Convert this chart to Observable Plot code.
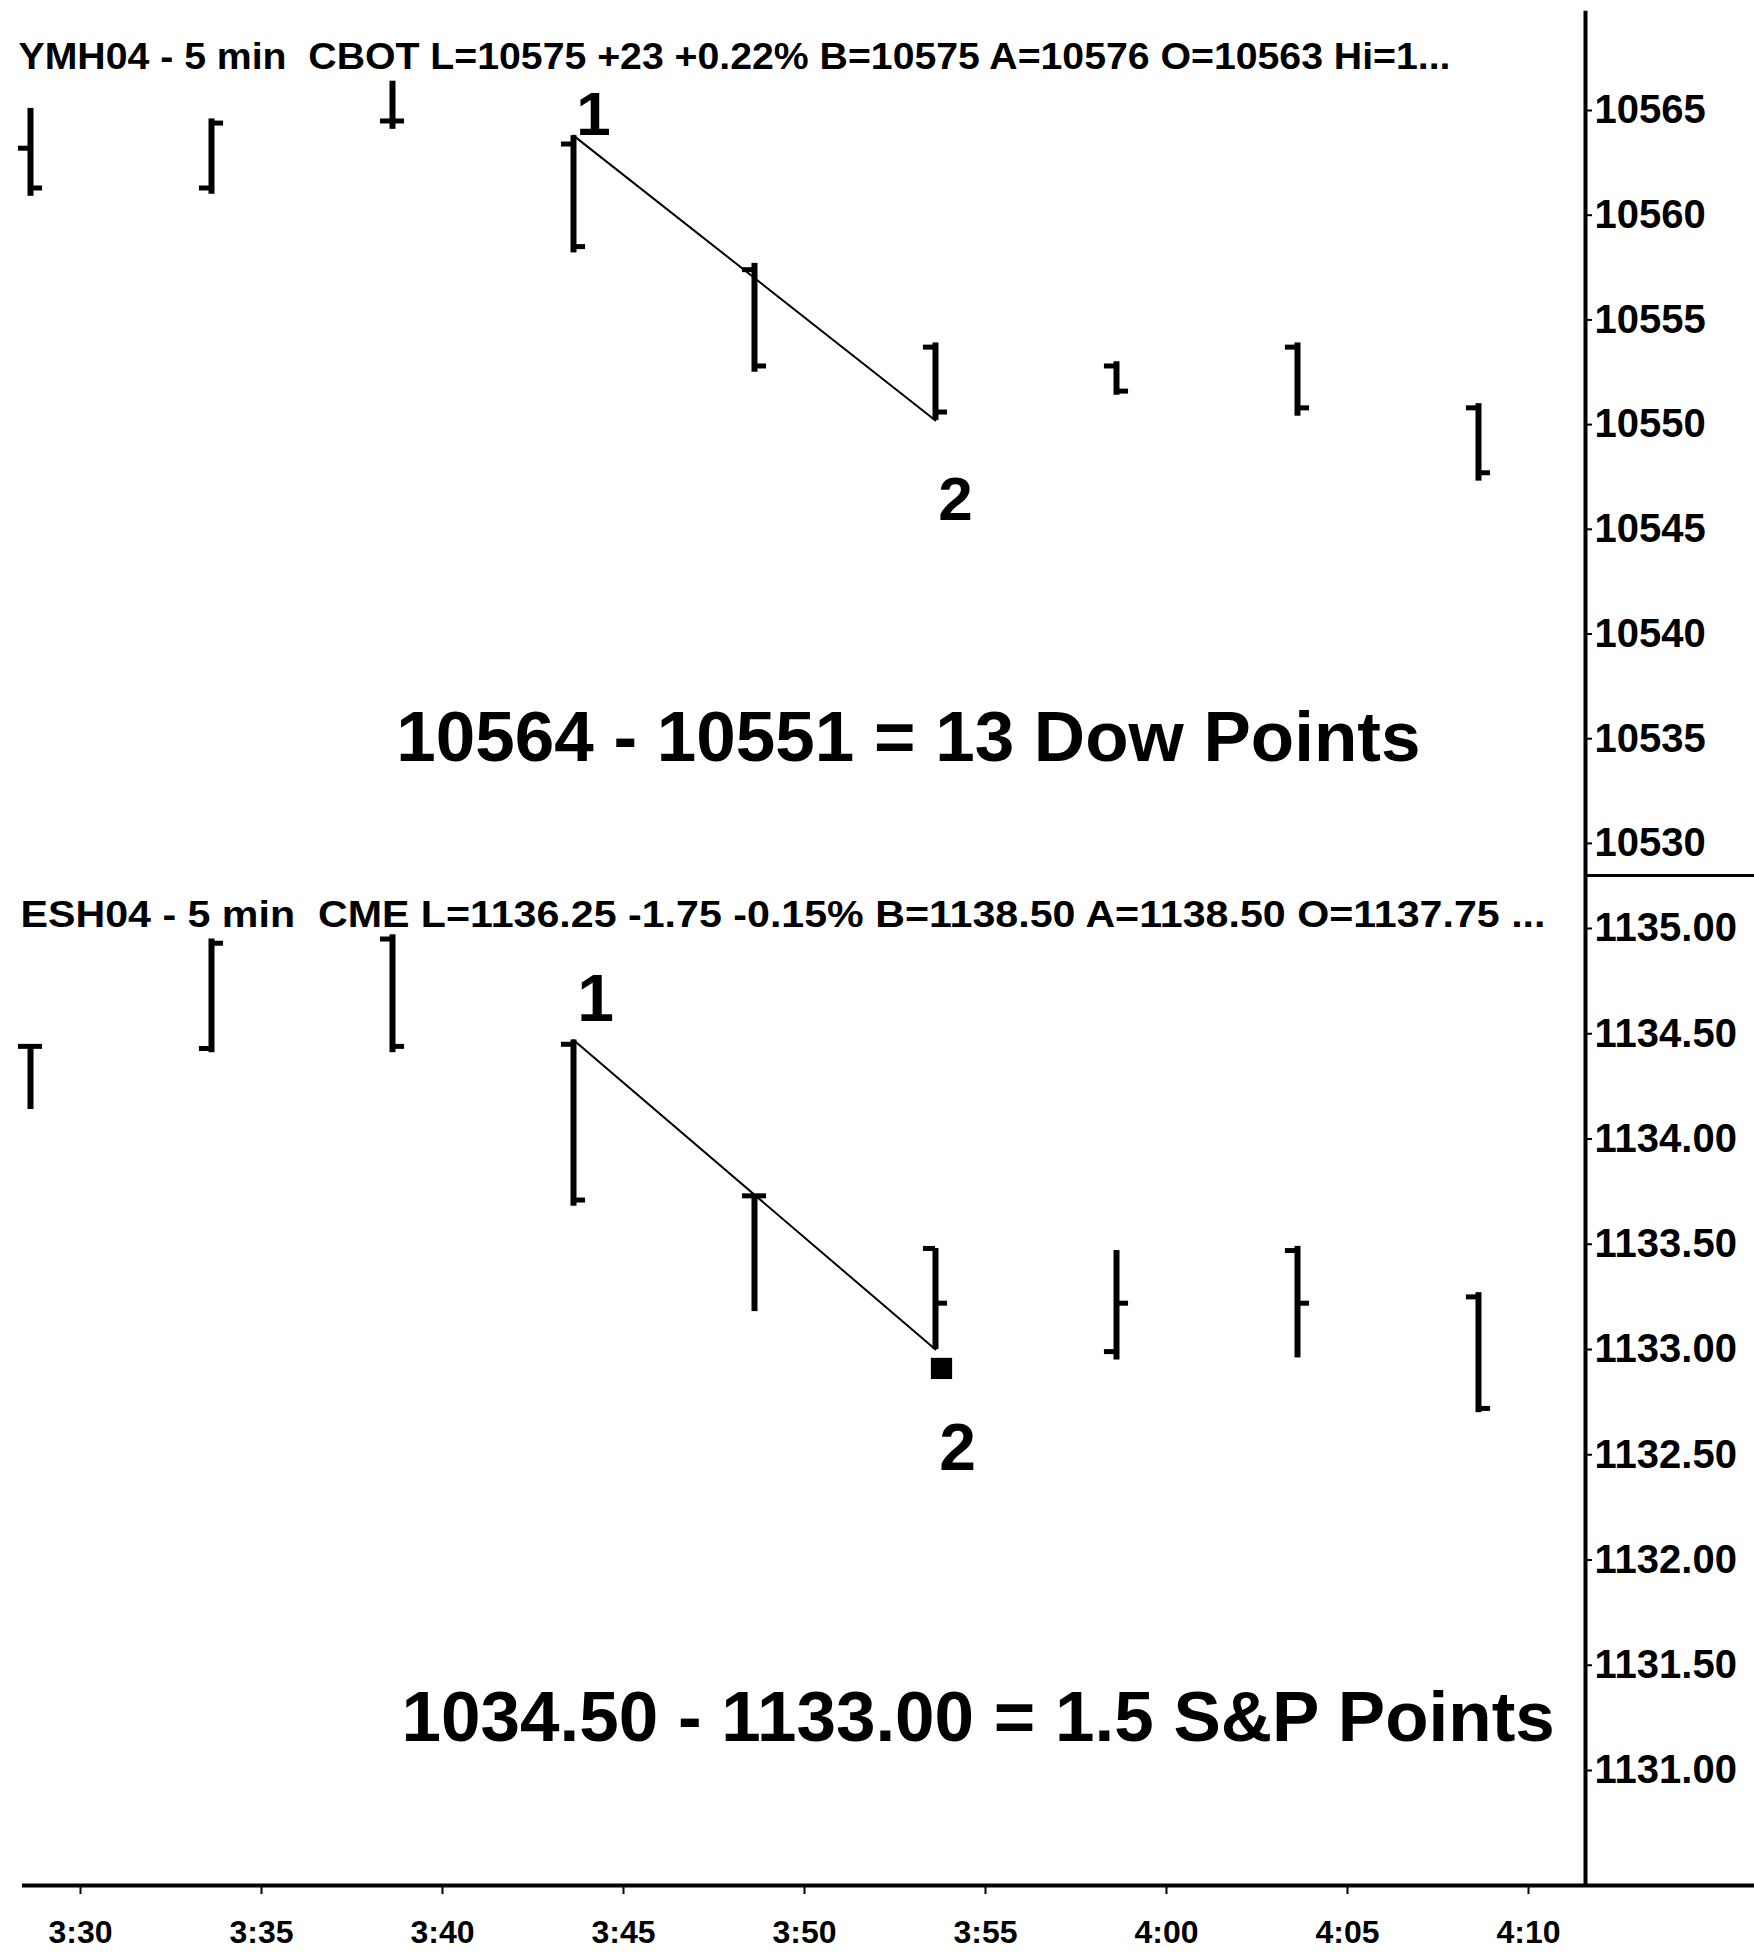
<!DOCTYPE html>
<html>
<head>
<meta charset="utf-8">
<script src="https://cdn.jsdelivr.net/npm/d3@7"></script>
<script src="https://cdn.jsdelivr.net/npm/@observablehq/plot@0.6"></script>
<style>
  html, body { margin: 0; padding: 0; background: #fff; }
  #chart { width: 1754px; height: 1954px; overflow: hidden; background: #fff; }
  #chart svg { display: block; }
</style>
</head>
<body>
<div id="chart"></div>
<script>
// ---------- data ----------
const times = ["3:30", "3:35", "3:40", "3:45", "3:50", "3:55", "4:00", "4:05", "4:10"];

// YMH04 (mini Dow) 5-min OHLC
const ymOpen  = [10563.2, 10561.3, 10564.5, 10563.4, 10557.4, 10553.7, 10552.8, 10553.7, 10550.8];
const ymHigh  = [10565.1, 10564.6, 10566.4, 10563.8, 10557.7, 10553.9, 10553.0, 10553.9, 10551.0];
const ymLow   = [10560.9, 10561.0, 10564.1, 10558.2, 10552.5, 10550.2, 10551.4, 10550.4, 10547.3];
const ymClose = [10561.3, 10564.4, 10564.5, 10558.5, 10552.8, 10550.6, 10551.6, 10550.8, 10547.7];

// ESH04 (e-mini S&P) 5-min OHLC
const esOpen  = [1134.44, 1134.43, 1134.95, 1134.45, 1133.73, 1133.48, 1132.99, 1133.47, 1133.25];
const esHigh  = [1134.44, 1134.95, 1134.97, 1134.47, 1133.73, 1133.48, 1133.47, 1133.49, 1133.27];
const esLow   = [1134.14, 1134.41, 1134.41, 1133.68, 1133.18, 1133.00, 1132.95, 1132.96, 1132.70];
const esClose = [1134.44, 1134.93, 1134.44, 1133.71, 1133.73, 1133.22, 1133.22, 1133.22, 1132.72];

// swing 1 -> 2 trend lines
const trendTimes = ["3:45", "3:55"];
const ymTrend = [10563.8, 10550.2];
const esTrend = [1134.47, 1133.00];

// wave labels
const waveLabels = ["1", "2"];
const ymWaveLevels = [10564.8, 10546.4];
const esWaveLevels = [1134.66, 1132.53];

// tick values
const ymTicks = [10530, 10535, 10540, 10545, 10550, 10555, 10560, 10565];
const esTicks = [1131.0, 1131.5, 1132.0, 1132.5, 1133.0, 1133.5, 1134.0, 1134.5, 1135.0];

// texts
const ymHeader = "YMH04 - 5 min\u00a0\u00a0CBOT L=10575 +23 +0.22% B=10575 A=10576 O=10563 Hi=1...";
const esHeader = "ESH04 - 5 min\u00a0\u00a0CME L=1136.25 -1.75 -0.15% B=1138.50 A=1138.50 O=1137.75 ...";
const ymNote = "10564 - 10551 = 13 Dow Points";
const esNote = "1034.50 - 1133.00 = 1.5 S&P Points";

// ---------- helpers ----------
const at = (h, m) => new Date(Date.UTC(2004, 1, 2, h, 0) + m * 60000);
const parseT = s => { const [h, m] = s.split(":").map(Number); return at(h, m); };
const bars = (O, H, L, C) => times.map((s, i) => ({t: parseT(s), o: O[i], h: H[i], l: L[i], c: C[i]}));
const ym = bars(ymOpen, ymHigh, ymLow, ymClose);
const es = bars(esOpen, esHigh, esLow, esClose);
const ymLine = trendTimes.map((s, i) => ({t: parseT(s), v: ymTrend[i]}));
const esLine = trendTimes.map((s, i) => ({t: parseT(s), v: esTrend[i]}));
const ymWaves = waveLabels.map((s, i) => ({t: parseT(trendTimes[i]), v: ymWaveLevels[i], s}));
const esWaves = waveLabels.map((s, i) => ({t: parseT(trendTimes[i]), v: esWaveLevels[i], s}));

const FONT = "'Liberation Sans', Arial, Helvetica, sans-serif";
const W = 1754;
const xDomain = [at(3, 29.1713), at(4, 12.956)];
const xRight = at(4, 17.7);
const xLeftLine = at(3, 29.78);
const ymDomain = [10528.419, 10569.537];
const esDomain = [1130.4537, 1135.247];

function ohlc(data) {
  return [
    Plot.ruleX(data, {x: "t", y1: "l", y2: "h", stroke: "#000", strokeWidth: 6}),
    Plot.ruleY(data, {y: "o", x1: d => new Date(+d.t - 20000), x2: "t", stroke: "#000", strokeWidth: 5}),
    Plot.ruleY(data, {y: "c", x1: "t", x2: d => new Date(+d.t + 20000), stroke: "#000", strokeWidth: 5})
  ];
}

function fitText(svg, content, length) {
  d3.select(svg).selectAll("text")
    .filter(function () { return this.textContent === content; })
    .attr("textLength", length)
    .attr("lengthAdjust", "spacingAndGlyphs");
}

// ---------- upper panel (YM) ----------
const upper = Plot.plot({
  width: W, height: 876,
  marginLeft: 0, marginRight: W - 1585, marginTop: 15, marginBottom: 0,
  style: {fontFamily: FONT, background: "#fff", overflow: "visible"},
  x: {type: "utc", domain: xDomain, axis: null},
  y: {domain: ymDomain},
  marks: [
    Plot.axisY({anchor: "right", ticks: ymTicks, tickFormat: d3.format("d"), tickSize: 6, tickPadding: 3,
                label: null, fontSize: 40, fontWeight: "bold", strokeWidth: 2}),
    Plot.ruleX([0], {x: () => xDomain[1], y1: () => ymDomain[1] + 0.2, y2: () => ymDomain[0], strokeWidth: 4}),
    Plot.ruleY([0], {y: () => ymDomain[0] + 0.05, x1: () => xDomain[1], x2: () => xRight, strokeWidth: 3}),
    ...ohlc(ym),
    Plot.line(ymLine, {x: "t", y: "v", stroke: "#000", strokeWidth: 2}),
    Plot.text(ymWaves, {x: "t", y: "v", text: "s", dx: 20, fontSize: 62, fontWeight: "bold", lineAnchor: "middle"}),
    Plot.text([ymHeader], {frameAnchor: "top-left", dx: 18, dy: 42, text: d => d, textAnchor: "start",
                           lineAnchor: "middle", fontSize: 36, fontWeight: "bold"}),
    Plot.text([ymNote], {x: () => at(3, 54.25), y: () => 10535, text: d => d, textAnchor: "middle",
                         lineAnchor: "middle", fontSize: 71, fontWeight: "bold"})
  ]
});
fitText(upper, ymHeader, 1432);

// ---------- lower panel (ES) ----------
const lower = Plot.plot({
  width: W, height: 1954 - 876,
  marginLeft: 0, marginRight: W - 1585, marginTop: 0, marginBottom: 69,
  style: {fontFamily: FONT, background: "#fff", overflow: "visible"},
  x: {type: "utc", domain: xDomain},
  y: {domain: esDomain},
  marks: [
    Plot.axisY({anchor: "right", ticks: esTicks, tickFormat: d3.format(".2f"), tickSize: 6, tickPadding: 3,
                label: null, fontSize: 40, fontWeight: "bold", strokeWidth: 2}),
    Plot.axisX({anchor: "bottom", ticks: times.map(parseT), tickFormat: d3.utcFormat("%-H:%M"),
                tickSize: 9, tickPadding: 26, label: null, fontSize: 32, fontWeight: "bold",
                textAnchor: "middle", dx: 50, strokeWidth: 2}),
    Plot.ruleX([0], {x: () => xDomain[1], y1: () => esDomain[1], y2: () => esDomain[0], strokeWidth: 4}),
    Plot.ruleY([0], {y: () => esDomain[0], x1: () => xLeftLine, x2: () => xRight, strokeWidth: 4}),
    ...ohlc(es),
    Plot.line(esLine, {x: "t", y: "v", stroke: "#000", strokeWidth: 2}),
    Plot.dot([esLine[1]], {x: "t", y: () => 1132.91, symbol: "square", r: 12, fill: "#000", stroke: null, dx: 6}),
    Plot.text(esWaves, {x: "t", y: "v", text: "s", dx: 22, fontSize: 66, fontWeight: "bold", lineAnchor: "middle"}),
    Plot.text([esHeader], {frameAnchor: "top-left", dx: 20, dy: 39, text: d => d, textAnchor: "start",
                           lineAnchor: "middle", fontSize: 36, fontWeight: "bold"}),
    Plot.text([esNote], {x: () => at(3, 56.18), y: () => 1131.25, text: d => d, textAnchor: "middle",
                         lineAnchor: "middle", fontSize: 71, fontWeight: "bold"})
  ]
});
fitText(lower, esHeader, 1525);

const chart = document.getElementById("chart");
chart.appendChild(upper);
chart.appendChild(lower);
</script>
</body>
</html>
